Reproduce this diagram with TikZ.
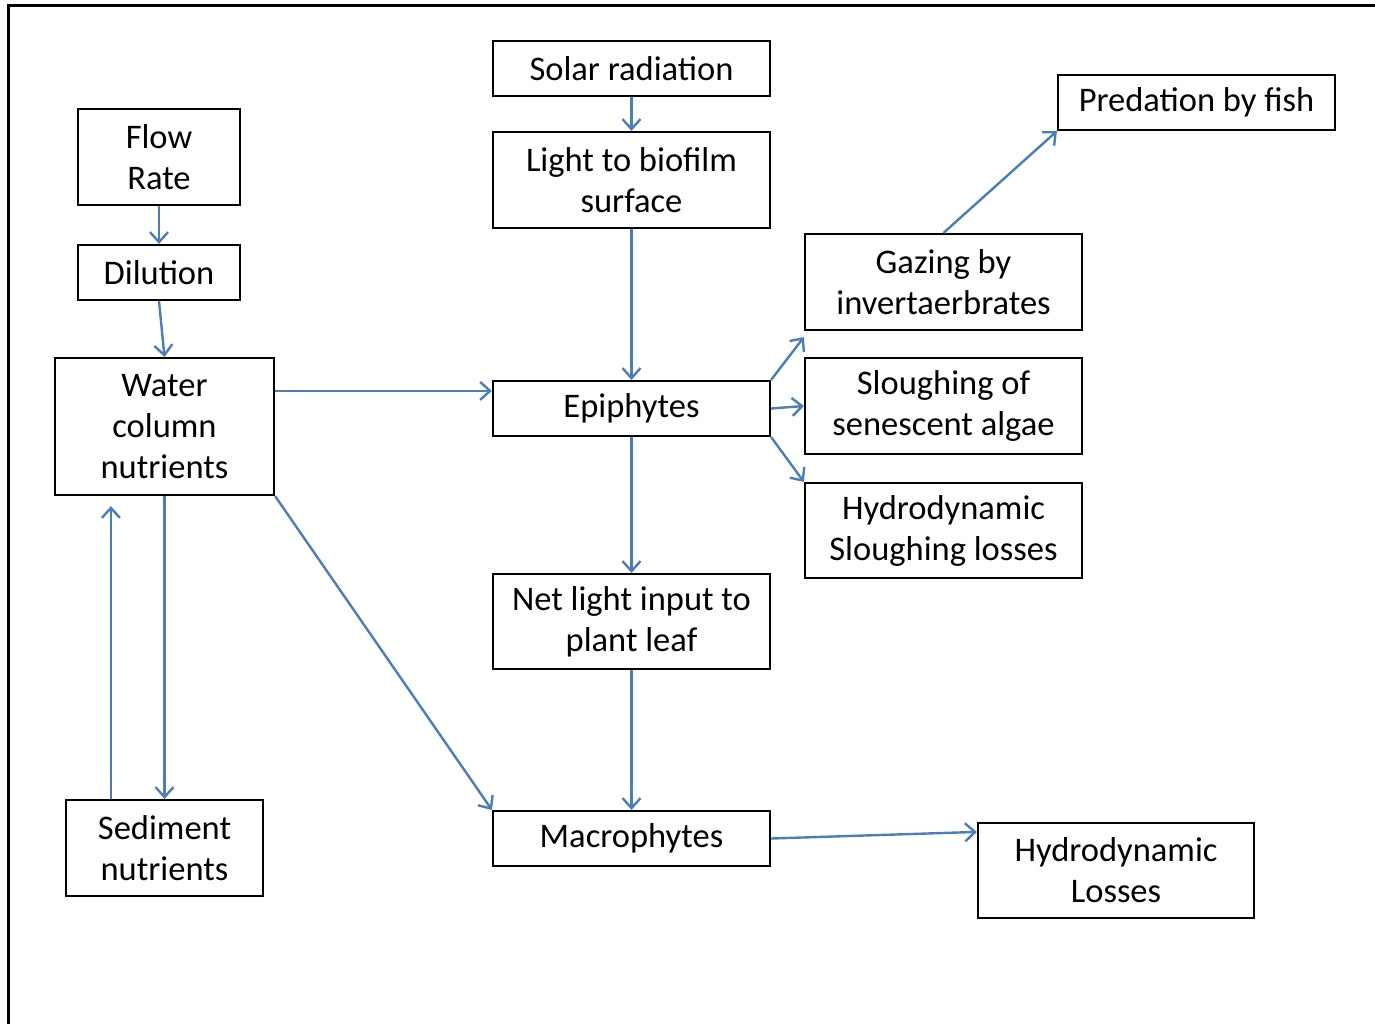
\documentclass[tikz,border=0pt]{standalone}
\usepackage{fontspec}
\setmainfont{Carlito}
\usetikzlibrary{arrows.meta}
\definecolor{linkblue}{HTML}{4A7EBB}
\begin{document}
\begin{tikzpicture}[x=1pt,y=-1pt,
  box/.style={draw=black,line width=2.2pt,rectangle,inner sep=0pt,align=center,
    font=\fontsize{34.5}{41}\selectfont},
  link/.style={draw=linkblue,line width=2.4pt,
    -{Straight Barb[length=10pt,width=18pt,line width=2.4pt]}}]
\useasboundingbox (0,0) rectangle (1375,1023);
% frame
\draw[line width=3pt] (8.5,1030) -- (8.5,5.5) -- (1380,5.5);
% boxes
\node[box,minimum width=277pt,minimum height=55pt] (solar) at (631.5,68.5) {Solar radiation};
\node[box,minimum width=277pt,minimum height=96pt] (light) at (631.5,180) {Light to biofilm\\surface};
\node[box,minimum width=162pt,minimum height=96pt] (flow) at (159,157) {Flow\\Rate};
\node[box,minimum width=162pt,minimum height=55pt] (dil) at (159,272.5) {Dilution};
\node[box,minimum width=219pt,minimum height=137pt] (water) at (164.5,426.5) {Water\\column\\nutrients};
\node[box,minimum width=277pt,minimum height=55pt] (epi) at (631.5,408.5) {Epiphytes};
\node[box,minimum width=277pt,minimum height=55pt] (pred) at (1196.5,102.5) {Predation by fish};
\node[box,minimum width=277pt,minimum height=96pt] (gaz) at (943.5,282) {Gazing by\\invertaerbrates};
\node[box,minimum width=277pt,minimum height=96pt] (slo) at (943.5,406) {Sloughing of\\senescent algae};
\node[box,minimum width=277pt,minimum height=95pt] (hyd) at (943.5,530.5) {Hydrodynamic\\Sloughing losses};
\node[box,minimum width=277pt,minimum height=95pt] (net) at (631.5,621.5) {Net light input to\\plant leaf};
\node[box,minimum width=197pt,minimum height=96pt] (sed) at (164.5,848) {Sediment\\nutrients};
\node[box,minimum width=277pt,minimum height=55pt] (mac) at (631.5,838.5) {Macrophytes};
\node[box,minimum width=276pt,minimum height=95pt] (los) at (1116,870.5) {Hydrodynamic\\Losses};
% connectors
\draw[link] (solar.south) -- (light.north);
\draw[link] (flow.south) -- (dil.north);
\draw[link] (dil.south) -- (water.north);
\coordinate (wout) at ([yshift=-34pt]water.north east);
\draw[link] (wout) -- (wout -| epi.west);
\draw[link] (light.south) -- (epi.north);
\draw[link] (epi.south) -- (net.north);
\draw[link] (net.south) -- (mac.north);
\draw[link] (water.south east) -- (mac.north west);
\draw[link] (water.south) -- (sed.north);
\draw[link] ([xshift=46pt]sed.north west) -- ([xshift=57pt,yshift=-10pt]water.south west);
\draw[link] (epi.north east) -- ([yshift=-6pt]gaz.south west);
\draw[link] (epi.east) -- (slo.west);
\draw[link] (epi.south east) -- (hyd.north west);
\draw[link] (gaz.north) -- (pred.south west);
\draw[link] (mac.east) -- ([yshift=-10pt]los.north west);
\end{tikzpicture}
\end{document}
